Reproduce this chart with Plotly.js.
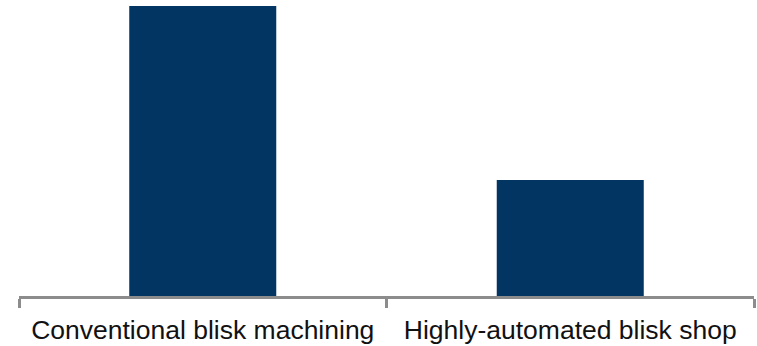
<!DOCTYPE html>
<html>
<head>
<meta charset="utf-8">
<script src="https://cdn.plot.ly/plotly-3.0.1.min.js"></script>
<style>html,body{margin:0;padding:0;background:#fff;}#chart{width:757px;height:346px;}</style>
</head>
<body>
<div id="chart"></div>
<script>
const categories = ["Conventional blisk machining", "Highly-automated blisk shop"];
const values = [100, 40];

const trace = {
  type: "bar",
  x: categories,
  y: values,
  marker: {color: "#023561"},
  hoverinfo: "skip"
};

const layout = {
  width: 757,
  height: 346,
  margin: {l: 19, r: 3, t: 6, b: 50},
  paper_bgcolor: "#ffffff",
  plot_bgcolor: "#ffffff",
  bargap: 0.6,
  showlegend: false,
  font: {family: "Liberation Sans, Arial, sans-serif", color: "#111111"},
  xaxis: {
    type: "category",
    showline: true,
    linecolor: "#8c8c8c",
    linewidth: 3,
    ticks: "outside",
    tickson: "boundaries",
    ticklen: 9,
    tickwidth: 3,
    tickcolor: "#8c8c8c",
    ticklabelstandoff: 8,
    tickfont: {size: 26.5, color: "#111111", family: "Liberation Sans, Arial, sans-serif"},
    showgrid: false,
    zeroline: false,
    automargin: false,
    fixedrange: true
  },
  yaxis: {
    range: [0, 100],
    visible: false,
    showgrid: false,
    zeroline: false,
    fixedrange: true
  }
};

Plotly.newPlot("chart", [trace], layout, {displayModeBar: false, staticPlot: true});
</script>
</body>
</html>
